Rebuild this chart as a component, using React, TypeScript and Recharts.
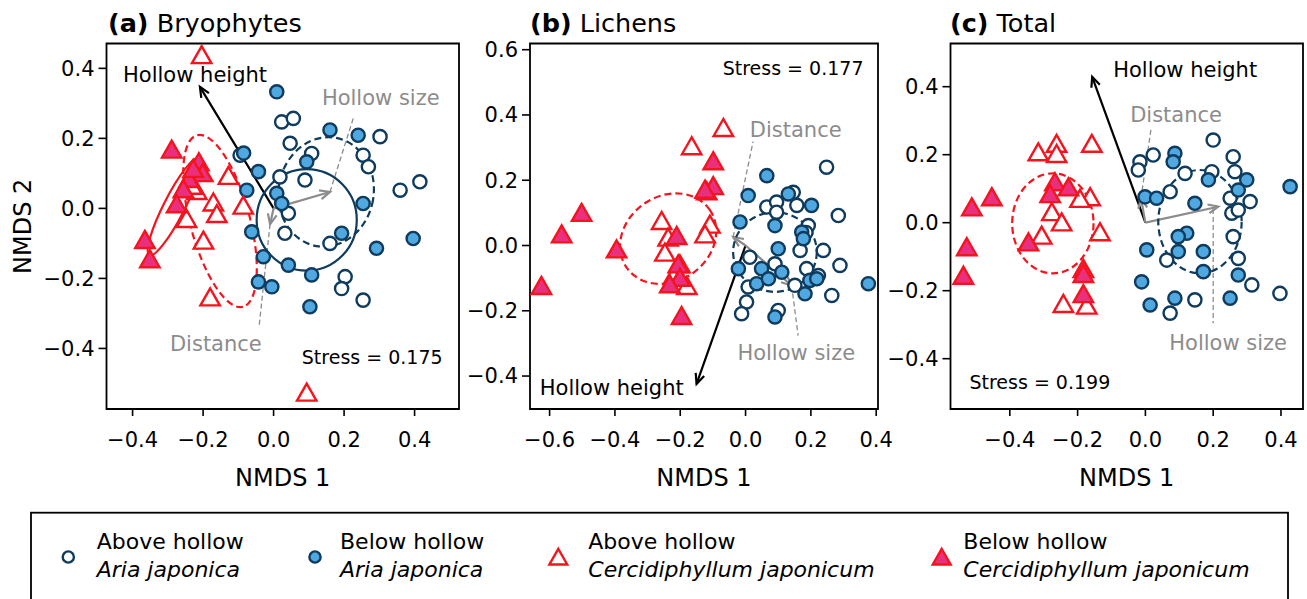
import React from 'react'
import { ScatterChart, Scatter, XAxis, YAxis, ReferenceLine, ReferenceArea } from 'recharts'

type Pt = [number, number]

// (a) Bryophytes
const bryoAriaAbove: Pt[] = [
  [0.023, 0.247], [0.056, 0.257], [0.047, 0.186], [0.108, 0.157], [0.254, 0.152], [0.269, 0.119],
  [0.302, 0.205], [-0.095, 0.152], [0.018, 0.09], [0.089, 0.081], [0.042, -0.014], [0.032, -0.071],
  [0.16, -0.1], [0.359, 0.052], [0.415, 0.076], [0.203, -0.195], [0.193, -0.229], [0.254, -0.262],
]
const bryoAriaBelow: Pt[] = [
  [0.009, 0.333], [0.16, 0.224], [0.24, 0.209], [-0.085, 0.158], [-0.043, 0.105], [-0.076, 0.052],
  [0.009, 0.043], [0.023, 0.014], [0.094, 0.133], [0.254, 0.014], [-0.062, -0.067], [0.193, -0.071],
  [0.292, -0.114], [0.396, -0.086], [-0.029, -0.138], [0.042, -0.162], [0.108, -0.19], [-0.043, -0.21],
  [-0.005, -0.224], [0.103, -0.281],
]
const bryoCercAbove: Pt[] = [
  [-0.204, 0.435], [-0.128, 0.09], [-0.218, 0.047], [-0.171, 0.014], [-0.161, -0.019], [-0.086, 0.005],
  [-0.247, -0.033], [-0.199, -0.095], [-0.18, -0.257], [0.094, -0.529], [-0.232, 0.062],
]
const bryoCercBelow: Pt[] = [
  [-0.289, 0.165], [-0.212, 0.129], [-0.201, 0.098], [-0.24, 0.081], [-0.256, 0.052], [-0.275, 0.009],
  [-0.365, -0.093], [-0.351, -0.148], [-0.228, 0.11],
]
const bryoEllipses = [
  { group: 'cercBelow', x: -0.282, y: 0.005, rx: 0.155, ry: 0.03, angle: -63 },
  { group: 'cercAbove', x: -0.152, y: -0.036, rx: 0.252, ry: 0.085, angle: 75 },
  { group: 'ariaBelow', x: 0.094, y: -0.033, rx: 0.142, ry: 0.145, angle: 0 },
  { group: 'ariaAbove', x: 0.149, y: 0.047, rx: 0.135, ry: 0.157, angle: 10 },
]
const bryoVectors = [
  { name: 'Hollow height', x: -0.209, y: 0.347 },
  { name: 'Hollow size', x: 0.16, y: 0.047 },
  { name: 'Distance', x: -0.01, y: -0.045 },
]
const bryoStress = 0.175

// (b) Lichens
const lichenAriaAbove: Pt[] = [
  [0.248, 0.24], [0.146, 0.163], [0.065, 0.118], [0.095, 0.133], [0.095, 0.102], [0.157, 0.123],
  [0.284, 0.092], [0.192, 0.061], [0.167, -0.015], [0.238, -0.015], [0.289, -0.061], [0.187, -0.071],
  [0.09, -0.056], [0.013, -0.036], [0.223, -0.092], [0.008, -0.127], [0.003, -0.173], [-0.012, -0.209],
  [0.1, -0.199], [0.264, -0.153], [0.151, -0.122], [0.185, 0.04],
]
const lichenAriaBelow: Pt[] = [
  [0.065, 0.214], [0.008, 0.153], [0.131, 0.158], [0.202, 0.123], [-0.017, 0.072], [0.09, 0.061],
  [0.172, 0.041], [0.177, 0.021], [0.1, -0.01], [-0.022, -0.071], [0.049, -0.071], [0.111, -0.082],
  [0.034, -0.117], [0.07, -0.102], [0.197, -0.107], [0.218, -0.102], [0.182, -0.148], [0.09, -0.219],
  [0.376, -0.117],
]
const lichenCercAbove: Pt[] = [
  [-0.068, 0.357], [-0.165, 0.301], [-0.257, 0.072], [-0.237, 0.021], [-0.109, 0.061], [-0.124, 0.031],
  [-0.247, -0.025], [-0.201, -0.061], [-0.18, -0.127], [-0.221, -0.097], [-0.119, 0.163],
]
const lichenCercBelow: Pt[] = [
  [-0.625, -0.127], [-0.563, 0.031], [-0.502, 0.097], [-0.395, -0.015], [-0.099, 0.255], [-0.099, 0.179],
  [-0.124, 0.168], [-0.211, 0.026], [-0.206, -0.061], [-0.201, -0.102], [-0.232, -0.122], [-0.196, -0.219],
]
const lichenEllipses = [
  { group: 'cercAbove', x: -0.237, y: 0.021, rx: 0.155, ry: 0.13, angle: -35 },
  { group: 'ariaAbove', x: 0.09, y: -0.02, rx: 0.128, ry: 0.122, angle: 0 },
]
const lichenVectors = [
  { name: 'Hollow height', x: -0.15, y: -0.424 },
  { name: 'Distance', x: -0.038, y: 0.026 },
  { name: 'Hollow size', x: 0.141, y: -0.1225 },
]
const lichenStress = 0.177

// (c) Total
const totalAriaAbove: Pt[] = [
  [0.2, 0.243], [-0.016, 0.179], [0.023, 0.199], [-0.021, 0.155], [0.117, 0.145], [0.196, 0.15],
  [0.259, 0.194], [0.264, 0.15], [0.073, 0.091], [0.25, 0.072], [0.309, 0.062], [0.255, 0.028],
  [0.274, 0.037], [0.259, -0.041], [0.274, -0.105], [0.063, -0.11], [0.314, -0.183], [0.397, -0.208],
  [0.146, -0.227], [0.073, -0.266],
]
const totalAriaBelow: Pt[] = [
  [0.087, 0.204], [0.082, 0.179], [0.186, 0.126], [0.299, 0.126], [0.274, 0.096], [0.427, 0.106],
  [-0.001, 0.076], [0.033, 0.072], [0.146, 0.057], [0.122, -0.031], [0.097, -0.041], [0.004, -0.08],
  [0.097, -0.085], [0.171, -0.085], [0.171, -0.144], [0.274, -0.154], [-0.011, -0.174], [0.014, -0.242],
  [0.087, -0.222], [0.25, -0.222],
]
const totalCercAbove: Pt[] = [
  [-0.316, 0.204], [-0.262, 0.229], [-0.262, 0.199], [-0.158, 0.229], [-0.163, 0.072], [-0.193, 0.067],
  [-0.276, 0.028], [-0.247, -0.002], [-0.134, -0.031], [-0.306, -0.041], [-0.242, -0.242], [-0.173, -0.247],
]
const totalCercBelow: Pt[] = [
  [-0.512, 0.042], [-0.453, 0.072], [-0.527, -0.075], [-0.537, -0.159], [-0.267, 0.116], [-0.227, 0.101],
  [-0.281, 0.081], [-0.345, -0.061], [-0.183, -0.139], [-0.183, -0.154], [-0.183, -0.213],
]
const totalEllipses = [
  { group: 'cercAbove', x: -0.273, y: -0.002, rx: 0.12, ry: 0.147, angle: 0 },
  { group: 'ariaAbove', x: 0.161, y: 0.003, rx: 0.123, ry: 0.152, angle: 0 },
]
const totalVectors = [
  { name: 'Hollow height', x: -0.157, y: 0.429 },
  { name: 'Distance', x: -0.013, y: 0.072 },
  { name: 'Hollow size', x: 0.215, y: 0.047 },
]
const totalStress = 0.199

// legend
const legendPosition = ['Above hollow', 'Below hollow', 'Above hollow', 'Below hollow']
const legendSpecies = ['Aria japonica', 'Aria japonica', 'Cercidiphyllum japonicum', 'Cercidiphyllum japonicum']

const FONT = '"DejaVu Sans", "Liberation Sans", sans-serif'
const NAVY = '#0f3b5f'
const BLUE = '#4fa9e0'
const RED = '#f5141e'
const PINK = '#e8307f'
const GREY = '#8c8c8c'

const ellipseStyle: Record<string, { stroke: string; dash?: string }> = {
  cercBelow: { stroke: RED },
  cercAbove: { stroke: RED, dash: '7 4' },
  ariaBelow: { stroke: NAVY },
  ariaAbove: { stroke: NAVY, dash: '7 4' },
}

const toPts = (a: Pt[]) => a.map(([x, y]) => ({ x, y }))
const fmt = (v: number) => (v < -1e-9 ? '\u2212' : '') + Math.abs(v).toFixed(1)

const openCircle = (p: any) => <circle cx={p.cx} cy={p.cy} r={6.6} fill="#fff" stroke={NAVY} strokeWidth={2.4} />
const fullCircle = (p: any) => <circle cx={p.cx} cy={p.cy} r={6.6} fill={BLUE} stroke={NAVY} strokeWidth={2.4} />
const triPoints = (cx: number, cy: number, s = 1) =>
  `${cx},${cy - 10 * s} ${cx - 9.7 * s},${cy + 7 * s} ${cx + 9.7 * s},${cy + 7 * s}`
const openTri = (p: any) => <polygon points={triPoints(p.cx, p.cy)} fill="#fff" stroke={RED} strokeWidth={2.4} />
const fullTri = (p: any) => <polygon points={triPoints(p.cx, p.cy)} fill={PINK} stroke={RED} strokeWidth={2.4} />

const arrowShape = (color: string) => (p: any) => {
  const { x1, y1, x2, y2 } = p
  const a = Math.atan2(y2 - y1, x2 - x1)
  const len = 11
  const sp = 0.42
  const hx1 = x2 - len * Math.cos(a - sp)
  const hy1 = y2 - len * Math.sin(a - sp)
  const hx2 = x2 - len * Math.cos(a + sp)
  const hy2 = y2 - len * Math.sin(a + sp)
  return (
    <g>
      <line x1={x1} y1={y1} x2={x2} y2={y2} stroke={color} strokeWidth={2.2} />
      <polyline points={`${hx1},${hy1} ${x2},${y2} ${hx2},${hy2}`} fill="none" stroke={color} strokeWidth={2.2} />
    </g>
  )
}

const noteShape = (p: any) => {
  const n = p.payload
  const dark = n.text.startsWith('Hollow height') || n.text.startsWith('Stress')
  return (
    <text x={p.cx} y={p.cy} fill={dark ? '#000' : GREY} fontSize={n.text.startsWith('Stress') ? 19 : 21}
      fontFamily={FONT} dominantBaseline="central" textAnchor="start">
      {n.text}
    </text>
  )
}

const panels = [
  {
    key: 'a', left: 0, width: 471, margin: { top: 43.5, right: 12, bottom: 11, left: 6.5 }, yAxisWidth: 100,
    xDomain: [-0.474, 0.526], yDomain: [-0.573, 0.471],
    xTicks: [-0.4, -0.2, 0, 0.2, 0.4], yTicks: [-0.4, -0.2, 0, 0.2, 0.4],
    groups: [bryoAriaAbove, bryoAriaBelow, bryoCercAbove, bryoCercBelow],
    ellipses: bryoEllipses, vectors: bryoVectors, stress: bryoStress, yLabel: true,
    notes: [
      { text: 'Hollow height', x: -0.427, y: 0.381 },
      { text: 'Hollow size', x: 0.137, y: 0.314 },
      { text: 'Distance', x: -0.294, y: -0.388 },
      { text: 'Stress', x: 0.08, y: -0.424 },
    ],
    leaders: [
      { from: [0.16, 0.047], to: [0.226, 0.257] },
      { from: [-0.01, -0.045], to: [-0.041, -0.336] },
    ],
  },
  {
    key: 'b', left: 460, width: 442, margin: { top: 43.5, right: 24, bottom: 11, left: 4 }, yAxisWidth: 66,
    xDomain: [-0.66, 0.4055], yDomain: [-0.501, 0.619],
    xTicks: [-0.6, -0.4, -0.2, 0, 0.2, 0.4], yTicks: [-0.4, -0.2, 0, 0.2, 0.4, 0.6],
    groups: [lichenAriaAbove, lichenAriaBelow, lichenCercAbove, lichenCercBelow],
    ellipses: lichenEllipses, vectors: lichenVectors, stress: lichenStress, yLabel: false,
    notes: [
      { text: 'Stress', x: -0.07, y: 0.543 },
      { text: 'Distance', x: 0.013, y: 0.354 },
      { text: 'Hollow size', x: -0.025, y: -0.33 },
      { text: 'Hollow height', x: -0.63, y: -0.437 },
    ],
    leaders: [
      { from: [-0.038, 0.026], to: [0.023, 0.318] },
      { from: [0.141, -0.1225], to: [0.161, -0.276] },
    ],
  },
  {
    key: 'c', left: 880, width: 427, margin: { top: 43.5, right: 4, bottom: 11, left: 4.5 }, yAxisWidth: 66,
    xDomain: [-0.575, 0.465], yDomain: [-0.548, 0.527],
    xTicks: [-0.4, -0.2, 0, 0.2, 0.4], yTicks: [-0.4, -0.2, 0, 0.2, 0.4],
    groups: [totalAriaAbove, totalAriaBelow, totalCercAbove, totalCercBelow],
    ellipses: totalEllipses, vectors: totalVectors, stress: totalStress, yLabel: false,
    notes: [
      { text: 'Hollow height', x: -0.095, y: 0.449 },
      { text: 'Distance', x: -0.045, y: 0.317 },
      { text: 'Hollow size', x: 0.0705, y: -0.355 },
      { text: 'Stress', x: -0.519, y: -0.468 },
    ],
    leaders: [
      { from: [-0.013, 0.072], to: [0.017, 0.278] },
      { from: [0.2, 0.04], to: [0.2, -0.296] },
    ],
  },
]

const HEIGHT = 500
const X_AXIS_H = 80

function Panel({ cfg }: { cfg: any }) {
  const { left, width, margin, yAxisWidth, xDomain, yDomain } = cfg
  const plotW = width - margin.left - margin.right - yAxisWidth
  const plotH = HEIGHT - margin.top - margin.bottom - X_AXIS_H
  const kx = plotW / (xDomain[1] - xDomain[0])
  const ky = plotH / (yDomain[1] - yDomain[0])

  const ellipseShape = (p: any) => {
    const e = p.payload
    const st = ellipseStyle[e.group]
    return (
      <ellipse cx={p.cx} cy={p.cy} rx={e.rx * kx} ry={e.ry * ky}
        transform={`rotate(${e.angle} ${p.cx} ${p.cy})`}
        fill="none" stroke={st.stroke} strokeWidth={2.2} strokeDasharray={st.dash} />
    )
  }

  const notes = cfg.notes.map((n: any) =>
    n.text === 'Stress' ? { ...n, text: `Stress = ${cfg.stress.toFixed(3)}` } : n)
  const tip = (name: string) => cfg.vectors.find((v: any) => v.name === name)

  const tickStyle = { fontSize: 21, fill: '#000', fontFamily: FONT }

  return (
    <div style={{ position: 'absolute', left, top: 0 }}>
      <ScatterChart width={width} height={HEIGHT} margin={margin}>
        <XAxis type="number" dataKey="x" domain={xDomain} ticks={cfg.xTicks} allowDataOverflow interval={0}
          axisLine={false} tickLine={{ stroke: '#000', strokeWidth: 1.6 }} tickSize={7} tickMargin={16}
          tick={tickStyle} tickFormatter={fmt} height={X_AXIS_H}
          label={{ value: 'NMDS 1', position: 'insideBottom', offset: 3, fontSize: 24, fill: '#000' }} />
        <YAxis type="number" dataKey="y" domain={yDomain} ticks={cfg.yTicks} allowDataOverflow interval={0}
          axisLine={false} tickLine={{ stroke: '#000', strokeWidth: 1.6 }} tickSize={8} tickMargin={4}
          tick={tickStyle} tickFormatter={fmt} width={yAxisWidth}
          label={cfg.yLabel ? {
            value: 'NMDS 2', angle: -90, position: 'insideLeft', offset: 15.5, fontSize: 24, fill: '#000',
            style: { textAnchor: 'middle' },
          } : undefined} />
        <ReferenceArea x1={xDomain[0]} x2={xDomain[1]} y1={yDomain[0]} y2={yDomain[1]}
          fill="none" stroke="#000" strokeWidth={1.8} ifOverflow="visible" />
        <Scatter data={cfg.ellipses} shape={ellipseShape} isAnimationActive={false} />
        <Scatter data={toPts(cfg.groups[0])} shape={openCircle} isAnimationActive={false} />
        <Scatter data={toPts(cfg.groups[1])} shape={fullCircle} isAnimationActive={false} />
        <Scatter data={toPts(cfg.groups[2])} shape={openTri} isAnimationActive={false} />
        <Scatter data={toPts(cfg.groups[3])} shape={fullTri} isAnimationActive={false} />
        {cfg.leaders.map((l: any, i: number) => (
          <ReferenceLine key={`l${i}`} segment={[{ x: l.from[0], y: l.from[1] }, { x: l.to[0], y: l.to[1] }]}
            stroke={GREY} strokeWidth={1.3} strokeDasharray="5 3" ifOverflow="visible" />
        ))}
        {cfg.vectors.map((v: any) => (
          <ReferenceLine key={v.name} segment={[{ x: 0, y: 0 }, { x: tip(v.name).x, y: tip(v.name).y }]}
            ifOverflow="visible" shape={arrowShape(v.name === 'Hollow height' ? '#000' : GREY)} />
        ))}
        <Scatter data={notes} shape={noteShape} isAnimationActive={false} />
      </ScatterChart>
    </div>
  )
}

const titles = [
  { tag: '(a)', name: 'Bryophytes', x: 108 },
  { tag: '(b)', name: 'Lichens', x: 530 },
  { tag: '(c)', name: 'Total', x: 950 },
]
const legendMarkerX = [68.3, 315, 558.3, 941.7]
const legendTextX = [96.7, 340, 588.3, 963.3]

function Overlay() {
  return (
    <svg width={1307} height={599} style={{ position: 'absolute', left: 0, top: 0, pointerEvents: 'none' }}
      fontFamily={FONT}>
      {titles.map((t) => (
        <text key={t.tag} x={t.x} y={31.7} fontSize={25.5} fill="#000">
          <tspan fontWeight="bold">{t.tag}</tspan> {t.name}
        </text>
      ))}
      <rect x={31} y={512.7} width={1257} height={110} fill="none" stroke="#000" strokeWidth={1.8} />
      {legendPosition.map((pos, i) => {
        const mx = legendMarkerX[i]
        const my = 557
        const marker =
          i === 0 ? <circle cx={mx} cy={my} r={5.6} fill="#fff" stroke={NAVY} strokeWidth={2.4} /> :
          i === 1 ? <circle cx={mx} cy={my} r={5.6} fill={BLUE} stroke={NAVY} strokeWidth={2.4} /> :
          <polygon points={triPoints(mx, my + 1, 0.92)} fill={i === 2 ? '#fff' : PINK} stroke={RED} strokeWidth={2.4} />
        return (
          <g key={i}>
            {marker}
            <text x={legendTextX[i]} y={541.7} fontSize={22} fill="#000" dominantBaseline="central">{pos}</text>
            <text x={legendTextX[i]} y={569.5} fontSize={22} fill="#000" fontStyle="italic"
              dominantBaseline="central">{legendSpecies[i]}</text>
          </g>
        )
      })}
    </svg>
  )
}

export default function App() {
  return (
    <div style={{ position: 'absolute', left: 0, top: 0, width: 1307, height: 599, background: '#fff',
      overflow: 'hidden', fontFamily: FONT }}>
      {panels.map((p) => <Panel key={p.key} cfg={p} />)}
      <Overlay />
    </div>
  )
}
